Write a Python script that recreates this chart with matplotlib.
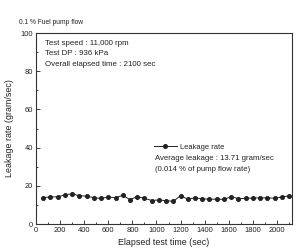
import matplotlib.pyplot as plt
from matplotlib.ticker import MultipleLocator

plt.rcParams['font.family'] = ['Liberation Sans', 'DejaVu Sans']

# elapsed time (sec) and leakage (gram/sec)
time_sec = [60, 120, 180, 240, 300, 360, 420, 480, 540, 600, 660, 720,
            780, 840, 900, 960, 1020, 1080, 1140, 1200, 1260, 1320, 1380,
            1440, 1500, 1560, 1620, 1680, 1740, 1800, 1860, 1920, 1980,
            2040, 2100]
leakage = [13.8, 14.2, 14.2, 15.3, 15.8, 14.8, 14.6, 13.8, 13.4, 14.1,
           13.8, 15.0, 12.8, 14.3, 13.5, 12.3, 12.6, 12.2, 11.9, 14.9,
           13.0, 13.7, 13.2, 13.0, 13.0, 12.9, 14.3, 13.3, 13.4, 13.6,
           13.7, 13.7, 13.5, 14.1, 14.8]

info_lines = ['Test speed : 11,000 rpm', 'Test DP : 936 kPa',
              'Overall elapsed time : 2100 sec']
avg_lines = ['Average leakage : 13.71 gram/sec', '(0.014 % of pump flow rate)']

txt_color = '#222222'

fig = plt.figure(figsize=(2.96, 2.52), dpi=100)
ax = fig.add_axes([0.1216, 0.111, 0.865, 0.758])

ax.plot(time_sec, leakage, '-o', color='#222222', lw=0.7, ms=2.6,
        label='Leakage rate')

ax.set_xlim(0, 2125)
ax.set_ylim(0, 100)
ax.xaxis.set_major_locator(MultipleLocator(200))
ax.xaxis.set_minor_locator(MultipleLocator(100))
ax.yaxis.set_major_locator(MultipleLocator(20))
ax.yaxis.set_minor_locator(MultipleLocator(10))
ax.tick_params(which='both', direction='in', labelsize=5.4, width=0.6,
               colors=txt_color, pad=2)
ax.tick_params(which='major', length=3)
ax.tick_params(which='minor', length=1.5)
for sp in ax.spines.values():
    sp.set_linewidth(0.8)
    sp.set_color('#333333')

ax.set_xlabel('Elapsed test time (sec)', fontsize=6.4, labelpad=3,
              color=txt_color)
ax.set_ylabel('Leakage rate (gram/sec)', fontsize=6.4, labelpad=5,
              color=txt_color)

fig.text(19 / 296, 1 - 23 / 252, '0.1 % Fuel pump flow', fontsize=4.8,
         va='center', ha='left', color=txt_color)

for i, s in enumerate(info_lines):
    fig.text(45 / 296, 1 - (43 + 10.5 * i) / 252, s, fontsize=5.7,
             va='center', ha='left', color=txt_color)

leg = ax.legend(loc='center left', bbox_to_anchor=(154 / 296, 1 - 147 / 252),
                bbox_transform=fig.transFigure, frameon=False, fontsize=5.4,
                handlelength=3.0, handletextpad=0.4, borderpad=0,
                borderaxespad=0)
for t in leg.get_texts():
    t.set_color(txt_color)

for i, s in enumerate(avg_lines):
    fig.text(155 / 296, 1 - (158.5 + 11 * i) / 252, s, fontsize=5.6,
             va='center', ha='left', color=txt_color)

fig.savefig('out.png', dpi=100)
